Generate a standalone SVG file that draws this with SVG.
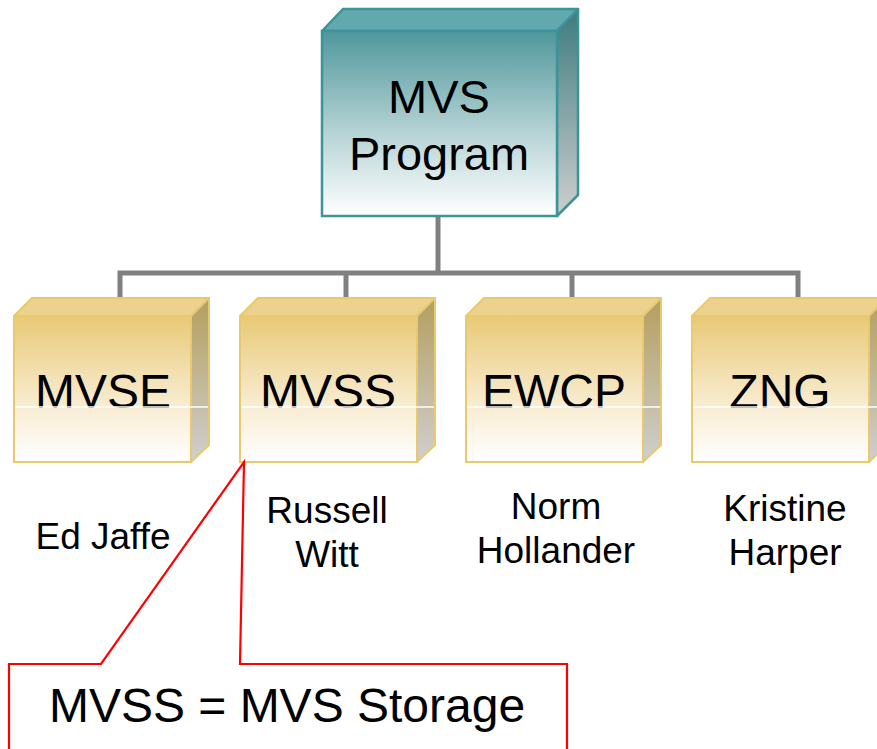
<svg xmlns="http://www.w3.org/2000/svg" width="877" height="749" viewBox="0 0 877 749">
<defs>
<linearGradient id="tealFront" x1="0" y1="0" x2="0" y2="1">
<stop offset="0" stop-color="#4f979b"/><stop offset="0.55" stop-color="#b6d3d5"/><stop offset="1" stop-color="#ffffff"/>
</linearGradient>
<linearGradient id="tealSide" x1="0" y1="0" x2="0" y2="1">
<stop offset="0" stop-color="#3d7b7e"/><stop offset="1" stop-color="#cfcfcf"/>
</linearGradient>
<linearGradient id="goldFront" x1="0" y1="0" x2="0" y2="1">
<stop offset="0" stop-color="#e9c976"/><stop offset="0.6" stop-color="#f8ecd0"/><stop offset="1" stop-color="#ffffff"/>
</linearGradient>
<linearGradient id="goldSide" x1="0" y1="0" x2="0" y2="1">
<stop offset="0" stop-color="#b59f5e"/><stop offset="1" stop-color="#cfcfcf"/>
</linearGradient>
<g id="goldBox">
<polygon points="0,18 18,0 195,0 177,18" fill="#ecd28d" stroke="#e8c96e" stroke-width="2" stroke-linejoin="round"/>
<polygon points="177,18 195,0 195,147 177,164" fill="url(#goldSide)" stroke="#e8c96e" stroke-width="2" stroke-linejoin="round"/>
<rect x="0" y="18" width="177" height="146" fill="url(#goldFront)" stroke="#e8c96e" stroke-width="2"/>
</g>
</defs>
<style>
text{font-family:"Liberation Sans",Arial,sans-serif;fill:#000;text-anchor:middle}
.big{font-size:48px}
.top{font-size:47px}
.name{font-size:37px}
.conn{stroke:#808080;stroke-width:5;fill:none}
.seam{stroke:#ffffff;stroke-width:1.5}
</style>
<g id="connectors">
<line class="conn" x1="438" y1="216" x2="438" y2="273"/>
<polyline class="conn" points="120,299 120,273 798,273 798,299"/>
<line class="conn" x1="346" y1="273" x2="346" y2="299"/>
<line class="conn" x1="572" y1="273" x2="572" y2="299"/>
</g>
<g id="node-mvs-program">
<polygon points="322,31 343,9 578,9 557,31" fill="#62a9ae" stroke="#3a9499" stroke-width="2.5" stroke-linejoin="round"/>
<polygon points="557,31 578,9 578,195 557,216" fill="url(#tealSide)" stroke="#3a9499" stroke-width="2.5" stroke-linejoin="round"/>
<rect x="322" y="31" width="235" height="185" fill="url(#tealFront)" stroke="#3a9499" stroke-width="2.5"/>
<text class="top" x="439" y="113">MVS</text>
<text class="top" x="439" y="170">Program</text>
</g>
<g id="node-mvse">
<use href="#goldBox" x="14" y="298"/>
<text class="big" x="103" y="408">MVSE</text>
<line class="seam" x1="15" y1="407" x2="208" y2="407"/>
</g>
<g id="node-mvss">
<use href="#goldBox" x="240" y="298"/>
<text class="big" x="328" y="408">MVSS</text>
<line class="seam" x1="241" y1="407" x2="434" y2="407"/>
</g>
<g id="node-ewcp">
<use href="#goldBox" x="466" y="298"/>
<text class="big" x="554" y="408">EWCP</text>
<line class="seam" x1="467" y1="407" x2="660" y2="407"/>
</g>
<g id="node-zng">
<use href="#goldBox" x="692" y="298"/>
<text class="big" x="780" y="408">ZNG</text>
<line class="seam" x1="693" y1="407" x2="877" y2="407"/>
</g>
<g id="names">
<text class="name" x="103" y="549">Ed Jaffe</text>
<text class="name" x="327" y="523">Russell</text>
<text class="name" x="327" y="567">Witt</text>
<text class="name" x="556" y="519">Norm</text>
<text class="name" x="556" y="563">Hollander</text>
<text class="name" x="785" y="521">Kristine</text>
<text class="name" x="785" y="565">Harper</text>
</g>
<g id="callout">
<polygon points="244,462 240,664 567,664 567,752 9,752 9,664 101,664" fill="#ffffff" stroke="#ff0000" stroke-width="2.2" stroke-linejoin="miter"/>
<text class="big" x="287" y="722">MVSS = MVS Storage</text>
</g>
</svg>
